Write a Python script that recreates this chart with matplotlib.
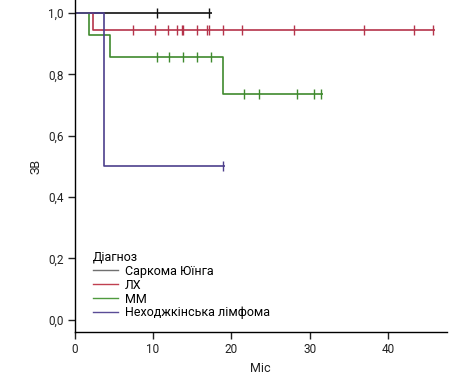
import matplotlib
matplotlib.use("Agg")
import matplotlib.pyplot as plt

plt.rcParams['font.family'] = ['Roboto', 'DejaVu Sans']

groups = ["Саркома Юїнга", "ЛХ", "ММ", "Неходжкінська лімфома"]
colors = ["#111111", "#b5334a", "#3f8a2e", "#4d3f8c"]
legend_colors = ["#707070", "#c04050", "#4f9a3e", "#5a4c96"]

ewing_t = [0, 17.6]
ewing_s = [1.0, 1.0]
ewing_c = [10.5, 17.2]

lh_t = [0, 2.35, 46.0]
lh_s = [1.0, 0.944, 0.944]
lh_c = [7.5, 10.3, 11.9, 13.1, 13.7, 13.9, 15.6, 16.9, 17.2, 18.9, 21.4, 28.0, 37.0, 43.3, 45.8]

mm_t = [0, 1.9, 4.5, 19.0, 31.7]
mm_s = [1.0, 0.929, 0.857, 0.735, 0.735]
mm_c = [10.5, 12.1, 13.9, 15.6, 17.4, 21.6, 23.5, 28.4, 30.6, 31.4]

nhl_t = [0, 3.8, 19.2]
nhl_s = [1.0, 0.5, 0.5]
nhl_c = [18.9]

yticks = [0.0, 0.2, 0.4, 0.6, 0.8, 1.0]
ytick_labels = ["0,0", "0,2", "0,4", "0,6", "0,8", "1,0"]
xticks = [0, 10, 20, 30, 40]

series = [(ewing_t, ewing_s, ewing_c), (lh_t, lh_s, lh_c), (mm_t, mm_s, mm_c), (nhl_t, nhl_s, nhl_c)]

fig = plt.figure(figsize=(4.59, 3.80), dpi=100)
ax = fig.add_axes([74.5/459, 1-332.3/380, (446.7-74.5)/459, 332.3/380])

def surv_at(t, s, x):
    v = s[0]
    for ti, si in zip(t, s):
        if ti <= x:
            v = si
    return v

for (t, s, c), col, lab in zip(series, colors, groups):
    ax.step(t, s, where='post', color=col, lw=1.2, solid_capstyle='butt')
    cy = [surv_at(t, s, x) for x in c]
    ax.plot(c, cy, ls='none', marker='|', ms=7.5, mew=1.0, color=col)

for col, lab in zip(legend_colors, groups):
    ax.plot([], [], color=col, lw=1.0, label=lab)

ax.set_xlim(0, 47.5)
ax.set_ylim(-0.041, 1.043)
ax.set_xticks(xticks)
ax.set_yticks(yticks)
ax.set_yticklabels(ytick_labels)
for sp in ['top', 'right']:
    ax.spines[sp].set_visible(False)
for sp in ['left', 'bottom']:
    ax.spines[sp].set_linewidth(1.0)
ax.tick_params(axis='both', length=5, width=1.0, labelsize=8.5, pad=3, colors='#222222')
ax.set_xlabel("Міс", fontsize=9, labelpad=4, color='#222222')
ax.set_ylabel("ЗВ", fontsize=9, labelpad=4, color='#222222')

leg = ax.legend(title="Діагноз", loc='upper left', bbox_to_anchor=(0.035, 0.26),
                frameon=False, fontsize=9, title_fontsize=9, handlelength=2.0,
                handletextpad=0.6, labelspacing=0.07, borderaxespad=0)
leg._legend_box.align = "left"

fig.savefig("out.png", dpi=100)
